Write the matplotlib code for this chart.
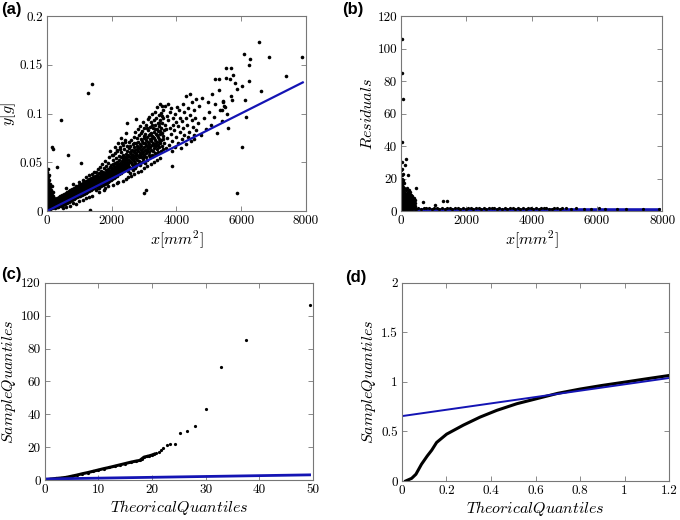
import matplotlib
matplotlib.use('Agg')
import matplotlib.pyplot as plt
import numpy as np

plt.rcParams['font.family'] = 'serif'
plt.rcParams['font.serif'] = ['cmr10']
plt.rcParams['mathtext.fontset'] = 'cm'
plt.rcParams['axes.formatter.use_mathtext'] = True

# (a) mass vs area, y in mg (converted to g below)
pts_a = [
    (4, 3), (6, 9), (8, 15), (9, 21), (11, 27), (13, 33), (14, 6), (16, 12), (18, 18), (20, 24),
    (22, 30), (24, 2), (26, 9), (28, 15), (30, 21), (32, 27), (35, 36), (37, 5), (39, 11), (42, 17),
    (44, 23), (47, 29), (49, 3), (52, 8), (54, 14), (57, 20), (60, 26), (63, 32), (66, 6), (69, 12),
    (72, 18), (75, 24), (78, 4), (82, 10), (85, 16), (88, 21), (92, 28), (95, 7), (99, 13), (103, 19),
    (107, 25), (111, 5), (115, 11), (119, 17), (123, 22), (128, 8), (133, 14), (138, 20), (143, 26),
    (148, 6), (153, 12), (158, 17), (164, 9), (170, 14), (176, 20), (182, 7), (189, 12), (196, 16),
    (203, 9), (211, 13), (219, 8), (227, 12), (235, 10), (243, 7), (250, 11), (3, 40), (10, 38),
    (18, 43), (7, 30), (25, 35), (40, 31), (58, 37), (5, 18), (12, 1), (30, 2), (45, 1), (65, 2),
    (90, 2), (120, 3), (150, 3), (180, 4), (210, 4), (240, 5),
    (256, 6), (263, 3), (270, 9), (278, 5), (285, 12), (292, 7), (300, 4), (308, 10), (315, 6),
    (322, 13), (330, 8), (338, 4), (345, 11), (352, 7), (360, 14), (367, 9), (375, 5), (382, 12),
    (390, 8), (397, 15), (405, 6), (412, 10), (420, 13), (427, 7), (435, 16), (442, 9), (450, 5),
    (457, 12), (465, 10), (472, 17), (480, 7), (487, 13), (495, 9), (502, 15), (510, 6), (517, 11),
    (525, 18), (532, 8), (540, 14), (547, 10), (555, 16), (562, 7), (570, 12), (577, 19), (585, 9),
    (592, 14), (600, 11), (607, 17), (615, 8), (622, 13), (630, 20), (637, 10), (645, 15), (652, 12),
    (660, 18), (667, 9), (675, 14), (682, 21), (690, 11), (697, 16), (705, 13), (712, 19), (720, 10),
    (727, 15), (735, 22), (742, 12), (750, 17), (757, 14), (765, 20), (772, 11), (780, 16), (787, 23),
    (795, 13), (802, 18), (810, 15), (817, 21), (825, 12), (832, 17), (840, 24), (847, 14), (855, 19),
    (862, 16), (870, 22), (877, 13), (885, 18), (892, 25), (900, 15), (907, 20), (915, 17), (922, 23),
    (930, 14), (937, 19), (945, 26), (952, 16), (960, 21), (967, 18), (975, 24), (982, 15), (990, 20),
    (997, 27), (1005, 17), (1012, 22), (1020, 19), (1027, 25), (1035, 16), (1042, 21), (1050, 28),
    (1057, 18), (1065, 23), (1072, 20), (1080, 26), (1087, 17), (1095, 22), (1102, 29), (1110, 19),
    (1117, 24), (1125, 21), (1132, 27), (1140, 18), (1147, 23), (1155, 30), (1162, 20), (1170, 25),
    (1177, 22), (1185, 28), (1192, 19), (1200, 24), (1207, 31), (1215, 21), (1222, 26), (1230, 23),
    (1237, 29), (1245, 20), (1252, 25), (1260, 32), (1267, 22), (1275, 27), (1282, 24), (1290, 30),
    (1297, 21), (1305, 26), (1312, 33), (1320, 23), (1327, 28), (1335, 25), (1342, 31), (1350, 22),
    (1357, 27), (1365, 34), (1372, 24), (1380, 29), (1387, 26), (1395, 32), (1402, 23), (1410, 28),
    (1417, 35), (1425, 25), (1432, 30), (1440, 27), (1447, 33), (1455, 24), (1462, 29), (1470, 36),
    (1477, 26), (1485, 31), (1492, 28),
    (600, 4), (800, 8), (1000, 10), (1100, 11), (1200, 13), (1300, 14), (1400, 16), (700, 5),
    (900, 7), (500, 3), (700, 22), (900, 26), (1100, 32), (1300, 37), (1450, 40), (800, 28),
    (1000, 30), (1200, 35), (600, 24), (1400, 38),
    (1503, 27), (1510, 35), (1516, 22), (1523, 31), (1529, 40), (1536, 25), (1542, 33), (1549, 29),
    (1555, 37), (1562, 24), (1568, 31), (1575, 43), (1581, 28), (1588, 35), (1594, 26), (1601, 32),
    (1607, 39), (1614, 29), (1620, 24), (1627, 36), (1633, 31), (1640, 45), (1646, 27), (1653, 34),
    (1659, 38), (1666, 30), (1672, 26), (1679, 41), (1685, 33), (1692, 29), (1698, 37), (1705, 48),
    (1711, 31), (1718, 27), (1724, 35), (1731, 40), (1737, 32), (1744, 28), (1750, 38), (1757, 44),
    (1763, 34), (1770, 30), (1776, 36), (1783, 51), (1789, 33), (1796, 28), (1802, 39), (1809, 35),
    (1815, 42), (1822, 31), (1828, 37), (1835, 46), (1841, 29), (1848, 34), (1854, 40), (1861, 36),
    (1867, 32), (1874, 49), (1880, 38), (1887, 30), (1893, 43), (1900, 35), (1906, 39), (1913, 33),
    (1919, 55), (1926, 41), (1932, 31), (1939, 37), (1945, 45), (1952, 34), (1958, 40), (1965, 36),
    (1971, 47), (1978, 32), (1984, 42), (1991, 38), (1997, 58), (2004, 35), (2010, 44), (2017, 39),
    (2023, 33), (2030, 48), (2036, 41), (2043, 36), (2049, 52), (2056, 38), (2062, 43), (2069, 34),
    (2075, 46), (2082, 40), (2088, 60), (2095, 37), (2101, 49), (2108, 42), (2114, 35), (2121, 45),
    (2127, 39), (2134, 54), (2140, 43), (2147, 37), (2153, 47), (2160, 41), (2166, 63), (2173, 36),
    (2179, 50), (2186, 44), (2192, 39), (2199, 48), (2205, 42), (2212, 57), (2218, 38), (2225, 46),
    (2231, 52), (2238, 41), (2244, 45), (2251, 66), (2257, 40), (2264, 49), (2270, 43), (2277, 55),
    (2283, 39), (2290, 47), (2296, 61), (2303, 44), (2309, 51), (2316, 42), (2322, 48), (2329, 70),
    (2335, 45), (2342, 53), (2348, 41), (2355, 58), (2361, 47), (2368, 43), (2374, 50), (2381, 64),
    (2387, 46), (2394, 55), (2400, 42), (2407, 49), (2413, 73), (2420, 52), (2426, 45), (2433, 59),
    (2439, 48), (2446, 44), (2452, 56), (2459, 67), (2465, 50), (2472, 46), (2478, 53), (2485, 62),
    (2491, 48), (2498, 57),
    (1600, 20), (1750, 22), (1900, 26), (2050, 27), (2200, 30), (2350, 31), (2500, 35), (1800, 24),
    (2150, 29), (2450, 33), (2700, 38), (2900, 41), (3100, 46), (3300, 50), (3500, 54), (2600, 36),
    (2800, 40), (3000, 44), (3200, 48), (3400, 52), (2100, 66), (2300, 75), (2450, 80), (1950, 62),
    (2200, 70), (2050, 58), (2150, 62), (2250, 64), (2350, 68), (2420, 71),
    (2505, 47), (2512, 58), (2518, 41), (2527, 65), (2533, 52), (2541, 71), (2549, 45), (2556, 61),
    (2563, 55), (2571, 39), (2578, 67), (2586, 50), (2593, 59), (2601, 44), (2609, 73), (2614, 56),
    (2622, 48), (2631, 63), (2637, 53), (2645, 42), (2652, 69), (2660, 58), (2667, 47), (2674, 76),
    (2683, 61), (2690, 51), (2697, 66), (2705, 44), (2712, 57), (2719, 81), (2727, 63), (2734, 49),
    (2742, 70), (2749, 54), (2756, 60), (2764, 46), (2771, 75), (2779, 58), (2786, 67), (2793, 52),
    (2801, 84), (2808, 62), (2816, 48), (2823, 71), (2830, 57), (2838, 65), (2845, 51), (2853, 78),
    (2860, 60), (2868, 69), (2875, 47), (2882, 87), (2890, 63), (2897, 55), (2905, 74), (2912, 59),
    (2920, 67), (2927, 50), (2935, 82), (2942, 64), (2950, 72), (2957, 56), (2965, 61), (2972, 91),
    (2980, 53), (2987, 77), (2995, 66), (3002, 58), (3010, 85), (3017, 70), (3025, 49), (3032, 63),
    (3040, 79), (3047, 60), (3055, 73), (3062, 55), (3070, 88), (3077, 67), (3085, 62), (3092, 76),
    (3100, 52), (3107, 94), (3115, 71), (3122, 64), (3130, 83), (3137, 58), (3145, 69), (3152, 78),
    (3160, 61), (3167, 97), (3175, 74), (3182, 55), (3190, 86), (3197, 66), (3205, 80), (3212, 63),
    (3220, 91), (3227, 72), (3235, 58), (3242, 68), (3250, 100), (3257, 77), (3265, 62), (3272, 85),
    (3280, 70), (3287, 57), (3295, 93), (3302, 75), (3310, 65), (3317, 81), (3325, 60), (3332, 102),
    (3340, 73), (3347, 88), (3355, 67), (3362, 79), (3370, 59), (3377, 96), (3385, 71), (3392, 84),
    (3400, 64), (3407, 107), (3415, 76), (3422, 90), (3430, 68), (3437, 82), (3445, 61), (3452, 99),
    (3460, 74), (3467, 87), (3475, 66), (3482, 110), (3490, 79), (3497, 93), (3505, 70), (3512, 62),
    (3520, 85), (3527, 101), (3535, 73), (3542, 90), (3550, 67), (3557, 108), (3565, 80), (3572, 95),
    (3580, 64), (3587, 77), (3595, 104),
    (2550, 50), (2600, 62), (2650, 45), (2700, 70), (2750, 58), (2800, 66), (2850, 55), (2900, 80),
    (2950, 60), (3000, 75), (3050, 68), (3100, 85), (3150, 66), (3200, 74), (3250, 88), (3300, 68),
    (3350, 84), (3400, 78), (3450, 90), (3500, 72), (3550, 98), (3600, 83), (2680, 54), (2780, 64),
    (2880, 58), (2980, 70), (3080, 64), (3180, 79), (3280, 76), (3380, 70), (3480, 82), (3580, 74),
    (3620, 70), (3633, 88), (3641, 108), (3668, 65), (3685, 84), (3702, 98), (3720, 75), (3736, 93),
    (3751, 110), (3774, 68), (3789, 102), (3804, 85), (3830, 79), (3842, 106), (3856, 62), (3871, 72),
    (3893, 95), (3907, 88), (3934, 83), (3949, 100), (3962, 66), (3986, 76), (3998, 91), (4012, 107),
    (4043, 70), (4061, 87), (4073, 104), (4104, 81), (4118, 96), (4131, 65), (4157, 74), (4172, 92),
    (4189, 110), (4216, 85), (4233, 102), (4247, 78), (4281, 69), (4296, 95), (4302, 118), (4337, 88),
    (4351, 76), (4368, 106), (4394, 81), (4412, 99), (4420, 120), (4458, 72), (4471, 93), (4486, 112),
    (4517, 86), (4532, 104), (4548, 78), (4577, 96), (4590, 115), (4604, 83),
    (4650, 90), (4700, 108), (4760, 78), (4800, 116), (4850, 95), (4900, 84), (4960, 112), (5000, 102),
    (5060, 88), (5100, 120), (5150, 97), (5200, 110), (5250, 80), (5300, 124), (5350, 104), (5400, 92),
    (5450, 113), (5500, 107), (5550, 100), (5600, 85),
    (1390, 130), (1276, 121), (423, 93), (170, 66), (180, 64), (659, 58), (1040, 49), (300, 45),
    (2461, 90), (2760, 94), (3006, 19), (3046, 22), (3850, 46), (5878, 18.5), (6032, 66), (6548, 173),
    (6075, 161), (6280, 156), (6239, 150), (6867, 158), (7876, 158), (7382, 139), (6610, 123),
    (6250, 133), (6032, 128), (6106, 114), (6147, 97), (5529, 147), (5693, 147), (5198, 135),
    (5313, 135), (5529, 137), (5662, 135), (5736, 140), (5816, 131), (5858, 125), (5683, 118),
    (5714, 114), (1330, 1), (4550, 74), (5440, 112), (5480, 108), (5420, 104),
]
fit_a_x = [0, 7900]
fit_a_y = [0, 0.132]

# (b) residuals
pts_b = [
    (5, 17), (8, 12), (10, 8), (12, 4), (15, 20), (18, 14), (20, 10), (22, 6), (25, 2), (28, 16),
    (30, 11), (33, 7), (36, 3), (40, 18), (42, 13), (45, 9), (48, 5), (50, 1.5), (55, 15), (58, 11),
    (60, 7), (64, 4), (68, 12), (70, 9), (75, 6), (78, 2.5), (82, 14), (85, 10), (90, 7), (95, 4),
    (100, 12), (105, 9), (110, 6), (115, 3), (120, 11), (125, 8), (130, 5), (135, 2), (140, 10),
    (145, 7), (150, 4), (160, 9), (165, 6), (170, 3), (180, 8), (185, 5), (190, 2.5), (200, 9),
    (205, 6), (210, 4), (220, 7), (230, 5), (235, 3), (245, 8), (250, 6), (260, 4), (270, 6),
    (280, 3), (290, 5), (300, 4), (310, 2.5), (320, 4), (340, 3), (360, 4), (380, 2.5), (400, 3),
    (420, 2), (5, 25), (12, 22), (30, 26), (60, 19), (95, 17), (150, 13), (220, 11), (260, 10),
    (300, 9), (350, 6), (400, 5), (15, 3), (45, 1), (90, 1.5), (130, 0.8), (170, 1), (220, 1.5),
    (270, 1), (330, 1.2),
    (210, 10), (230, 8), (250, 9), (270, 7), (290, 8), (310, 6), (330, 7), (350, 5), (370, 6),
    (390, 4), (410, 5), (430, 3), (200, 12), (240, 11), (280, 10), (320, 8), (360, 7), (400, 6),
    (185, 14), (225, 13), (265, 12), (305, 10), (345, 9), (385, 8), (420, 7), (195, 3), (255, 2),
    (315, 3), (375, 2), (425, 1.5),
    (10, 106), (10, 85), (51, 69), (10, 42.5), (31, 30), (143, 32), (112, 28.6), (214, 22.2),
    (439, 14.2), (673, 5.5), (1286, 6), (1408, 6), (1042, 3.7), (60, 23),
]
row_b_x = [440, 520, 600, 690, 770, 850, 930, 1010, 1090, 1170, 1250, 1330, 1410, 1490, 1570,
           1650, 1730, 1810, 1890, 1970, 2050, 2130, 2210, 2290, 2370, 2450, 2530, 2610, 2690,
           2770, 2850, 2930, 3010, 3090, 3170, 3250, 3330, 3410, 3490, 3570, 3650, 3730, 3810,
           3890, 3970, 4050, 4130, 4210, 4290, 4370, 4450, 4530, 4610, 4690, 4770, 4850, 4930,
           5050, 5200, 5350, 5600, 5800, 6050, 6250, 6600, 6900, 7400, 7900]
row_b_y = [1.6, 2.0, 1.4, 1.9, 1.7, 2.1, 1.5, 1.8, 2.0, 1.6, 1.9, 1.4, 2.1, 1.7, 1.5, 2.0, 1.8,
           1.6, 1.9, 1.4, 2.0, 1.7, 1.5, 1.9, 1.8, 1.6, 2.0, 1.4, 1.8, 1.7, 1.9, 1.5, 2.0, 1.6,
           1.8, 1.5, 1.9, 1.7, 1.4, 2.0, 1.6, 1.8, 1.5, 1.9, 1.7, 1.6, 2.0, 1.5, 1.8, 1.7, 1.9,
           1.6, 1.5, 1.8, 1.7, 1.6, 1.9, 1.7, 1.5, 1.8, 1.6, 1.4, 1.7, 1.5, 1.4, 1.3, 1.2, 1.4]
fit_b_x = [0, 7900]
fit_b_y = [0.4, 0.4]

# (c) QQ plot
qq_c_x = [0, 1, 2, 3, 4, 5, 6, 7, 8, 9, 10, 11, 12, 13, 14, 15, 16, 17, 17.7, 18.1, 18.5,
          19.0, 19.5, 20.0, 20.4]
qq_c_y = [0, 0.5, 0.9, 1.2, 1.6, 2.3, 3.0, 3.8, 4.5, 5.3, 6.1, 6.9, 7.6, 8.4, 9.2, 10.0,
          10.8, 11.5, 11.9, 12.9, 13.9, 14.3, 14.7, 15.2, 15.7]
tail_c_x = [20.8, 21.3, 21.7, 22.1, 22.7, 23.4, 24.3, 25.2, 26.5, 28.0, 30.0, 32.8, 37.5, 49.4]
tail_c_y = [16.4, 17.3, 18.3, 19.6, 21.1, 21.6, 22.1, 28.5, 29.9, 32.9, 43.0, 69.0, 85.3, 106.8]
fit_c_x = [0, 49.4]
fit_c_y = [0.6, 3.1]

# (d) QQ plot, zoomed
qq_d_x = [0.017, 0.044, 0.063, 0.088, 0.114, 0.134, 0.156, 0.201, 0.276, 0.351, 0.426, 0.516,
          0.621, 0.7, 0.8, 0.9, 1.0, 1.1, 1.2]
qq_d_y = [0.0, 0.027, 0.068, 0.169, 0.253, 0.311, 0.389, 0.473, 0.564, 0.645, 0.713, 0.78,
          0.84, 0.885, 0.928, 0.965, 0.998, 1.032, 1.065]
fit_d_x = [0, 1.2]
fit_d_y = [0.655, 1.04]

blue = '#1414b4'
frame = '#777777'

fig = plt.figure(figsize=(6.8, 5.2), dpi=100)
ax_a = fig.add_axes([0.069, 0.594, 0.381, 0.375])
ax_b = fig.add_axes([0.590, 0.594, 0.384, 0.375])
ax_c = fig.add_axes([0.066, 0.077, 0.394, 0.379])
ax_d = fig.add_axes([0.591, 0.075, 0.393, 0.381])


def style(ax, xt, xl, yt, yl):
    ax.set_xticks(xt)
    ax.set_xticklabels(xl)
    ax.set_yticks(yt)
    ax.set_yticklabels(yl)
    ax.set_xlim(xt[0], xt[-1])
    ax.set_ylim(yt[0], yt[-1])
    ax.tick_params(direction='in', top=True, right=True, length=3.5, width=0.6,
                   color=frame, labelsize=9.5, pad=3)
    for s in ax.spines.values():
        s.set_color(frame)
        s.set_linewidth(0.8)


a = np.array(pts_a)
ax_a.plot(a[:, 0], a[:, 1] / 1000, 'o', color='k', ms=2.6, mew=0)
ax_a.plot(fit_a_x, fit_a_y, color=blue, lw=1.6)
style(ax_a, [0, 2000, 4000, 6000, 8000], ['0', '2000', '4000', '6000', '8000'],
      [0, 0.05, 0.1, 0.15, 0.2], ['0', '0.05', '0.1', '0.15', '0.2'])
ax_a.set_xlabel('$x[mm^2]$', fontsize=11.5, labelpad=1)
ax_a.set_ylabel('$y[g]$', fontsize=11.5, labelpad=1)

b = np.array(pts_b)
ax_b.plot(fit_b_x, fit_b_y, color=blue, lw=2.6, zorder=1)
ax_b.plot(b[:, 0], b[:, 1], 'o', color='k', ms=2.5, mew=0)
ax_b.plot(row_b_x, row_b_y, 'o', color='k', ms=2.3, mew=0)
style(ax_b, [0, 2000, 4000, 6000, 8000], ['0', '2000', '4000', '6000', '8000'],
      [0, 20, 40, 60, 80, 100, 120], ['0', '20', '40', '60', '80', '100', '120'])
ax_b.set_xlabel('$x[mm^2]$', fontsize=11.5, labelpad=1)
ax_b.set_ylabel('$Residuals$', fontsize=11.5, labelpad=2)

ax_c.plot(qq_c_x, qq_c_y, '-o', color='k', lw=2.2, ms=2.3, mew=0)
ax_c.plot(tail_c_x, tail_c_y, 'o', color='k', ms=2.3, mew=0)
ax_c.plot(fit_c_x, fit_c_y, color=blue, lw=2.0)
style(ax_c, [0, 10, 20, 30, 40, 50], ['0', '10', '20', '30', '40', '50'],
      [0, 20, 40, 60, 80, 100, 120], ['0', '20', '40', '60', '80', '100', '120'])
ax_c.set_xlabel('$TheoricalQuantiles$', fontsize=11.5, labelpad=1)
ax_c.set_ylabel('$SampleQuantiles$', fontsize=11.5, labelpad=2)

ax_d.plot(qq_d_x, qq_d_y, '-', color='k', lw=2.2)
ax_d.plot(fit_d_x, fit_d_y, color=blue, lw=1.4)
style(ax_d, [0, 0.2, 0.4, 0.6, 0.8, 1.0, 1.2], ['0', '0.2', '0.4', '0.6', '0.8', '1', '1.2'],
      [0, 0.5, 1, 1.5, 2], ['0', '0.5', '1', '1.5', '2'])
ax_d.set_xlabel('$TheoricalQuantiles$', fontsize=11.5, labelpad=1)
ax_d.set_ylabel('$SampleQuantiles$', fontsize=11.5, labelpad=2)

for lab, x, y in [('(a)', 0.002, 0.982), ('(b)', 0.503, 0.982), ('(c)', 0.002, 0.472), ('(d)', 0.507, 0.467)]:
    fig.text(x, y, lab, family='Liberation Sans', weight='bold', fontsize=12, va='center')

fig.savefig('out.png', dpi=100)
